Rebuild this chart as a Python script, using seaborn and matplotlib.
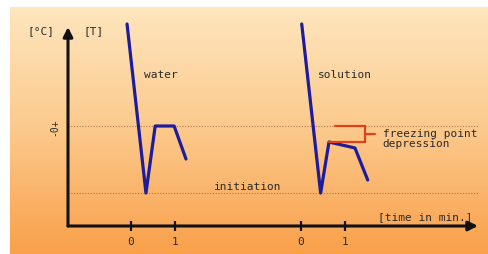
import matplotlib
matplotlib.use("Agg")
import matplotlib.pyplot as plt
import numpy as np
import pandas as pd
import seaborn as sns
from matplotlib.colors import LinearSegmentedColormap

# cooling curves, time in minutes, temperature in (relative) degrees
water_t = [-0.09, 0.34, 0.55, 0.98, 1.25]
water_T = [10.2, -6.7, 0.0, 0.0, -3.3]
solution_t = [0.02, 0.45, 0.64, 1.23, 1.52]
solution_T = [10.2, -6.7, -1.6, -2.2, -5.4]
solution_offset = 3.86  # second experiment drawn further right on the same axis

freezing_water = 0.0
freezing_solution = -1.6
initiation = -6.7
tick_times = [0, 1]

sns.set_style("white")
plt.rcParams["font.family"] = ["DejaVu Sans Mono"]

fig = plt.figure(figsize=(4.88, 2.55), dpi=100)

# orange gradient background panel
bg = fig.add_axes([10 / 488, 0, 478 / 488, 247 / 255])
cmap = LinearSegmentedColormap.from_list("peach", ["#fee6be", "#fcc98c", "#f9a04a"])
bg.imshow(np.linspace(0, 1, 256)[:, None], aspect="auto", cmap=cmap,
          extent=[0, 1, 0, 1], origin="upper")
bg.set_axis_off()

ax = fig.add_axes([68 / 488, 28 / 255, 410 / 488, 199 / 255])
ax.patch.set_alpha(0)
ax.set_xlim(-63 / 44, 347 / 44)
ax.set_ylim(-10, 9.9)

df = pd.concat([
    pd.DataFrame({"t": water_t, "T": water_T, "run": "water"}),
    pd.DataFrame({"t": np.array(solution_t) + solution_offset, "T": solution_T, "run": "solution"}),
])
sns.lineplot(data=df, x="t", y="T", hue="run", sort=False, estimator=None,
             palette=["#1c1c9c", "#1c1c9c"], linewidth=2.3, legend=False, ax=ax,
             clip_on=False)

# reference levels
for lvl in [freezing_water, initiation]:
    ax.axhline(lvl, color="#b07a50", lw=0.8, ls=(0, (1, 1.5)), zorder=0)

# freezing point depression bracket
bx = solution_offset + 1.45
red = "#e0401a"
ax.plot([solution_offset + 0.77, bx], [freezing_water] * 2, color=red, lw=1.6)
ax.plot([solution_offset + 0.64, bx], [freezing_solution] * 2, color=red, lw=1.6)
ax.plot([bx, bx], [freezing_water, freezing_solution], color=red, lw=1.6)
mid = (freezing_water + freezing_solution) / 2
ax.plot([bx, bx + 0.23], [mid, mid], color=red, lw=1.6)

tc = "#2a2a2a"
fs = 8
ax.text(bx + 0.41, mid - 0.4, "freezing point\ndepression", fontsize=fs, color=tc,
        va="center", ha="left", linespacing=0.9)
ax.text(0.68, 5.2, "water", fontsize=fs, color=tc, ha="center", va="center")
ax.text(4.86, 5.2, "solution", fontsize=fs, color=tc, ha="center", va="center")
ax.text(2.66, -6.0, "initiation", fontsize=fs, color=tc, ha="center", va="center")
ax.text(6.68, -9.0, "[time in min.]", fontsize=fs, color=tc, ha="center", va="center")
ax.text(-2.05, 9.6, "[°C]", fontsize=fs, color=tc, ha="center", va="center")
ax.text(-0.86, 9.6, "[T]", fontsize=fs, color=tc, ha="center", va="center")
ax.text(-1.75, 0, "-0+", fontsize=fs - 1, color=tc, ha="center", va="center", rotation=90)

# axes with arrow heads
sns.despine(ax=ax, left=True, bottom=True, top=True, right=True)
ax.annotate("", xy=(1, 0), xytext=(0, 0), xycoords="axes fraction",
            arrowprops=dict(arrowstyle="-|>", lw=2.2, color="#111111", mutation_scale=14,
                            shrinkA=0, shrinkB=0))
ax.annotate("", xy=(0, 1), xytext=(0, 0), xycoords="axes fraction",
            arrowprops=dict(arrowstyle="-|>", lw=2.2, color="#111111", mutation_scale=14,
                            shrinkA=0, shrinkB=0))

ticks = tick_times + [t + solution_offset for t in tick_times]
ax.set_xticks(ticks)
ax.set_xticklabels([str(t) for t in tick_times] * 2, fontsize=fs, color=tc)
ax.tick_params(axis="x", direction="inout", length=7, width=1.6, color="#111111", pad=4,
               bottom=True)
ax.set_yticks([])
ax.set_xlabel("")
ax.set_ylabel("")

fig.savefig("out.png", dpi=100)
